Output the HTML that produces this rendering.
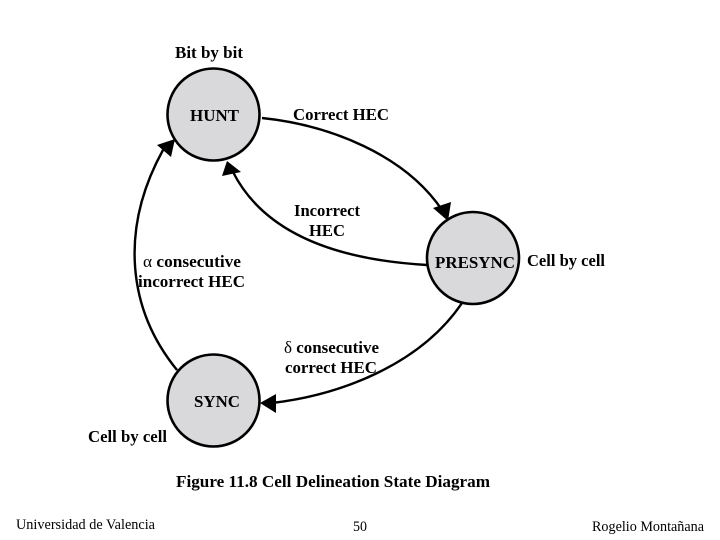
<!DOCTYPE html>
<html>
<head>
<meta charset="utf-8">
<style>
html,body{margin:0;padding:0;background:#fff;width:720px;height:540px;overflow:hidden}
svg{display:block}
text{font-family:"Liberation Serif",serif;fill:#000}
.b{font-weight:bold;font-size:16.5px}
.f{font-size:14.5px;font-family:"Liberation Serif",serif}
.n{font-weight:normal}
</style>
</head>
<body>
<svg width="720" height="540" viewBox="0 0 720 540" xmlns="http://www.w3.org/2000/svg">
<g fill="#d9d9db" stroke="#000" stroke-width="2.6">
<circle cx="213.5" cy="114.5" r="46"/>
<circle cx="473" cy="258" r="46"/>
<circle cx="213.5" cy="400.5" r="46"/>
</g>
<g fill="none" stroke="#000" stroke-width="2.4">
<path d="M262 118 C330 125 405 155 442 210"/>
<path d="M427 265 C340 260 265 235 233 172"/>
<path d="M177 370 C128 310 119 230 163 150"/>
<path d="M462 303 C420 365 340 395 272 403"/>
</g>
<g fill="#000">
<polygon points="448,221 433,208 451,202"/>
<polygon points="227,161 222,176 241,172"/>
<polygon points="175,139 157,145 171,157"/>
<polygon points="260,403 276,394 276,413"/>
</g>
<text class="b" x="175" y="58" textLength="68" lengthAdjust="spacingAndGlyphs">Bit by bit</text>
<text class="b" x="190" y="121" textLength="49" lengthAdjust="spacingAndGlyphs">HUNT</text>
<text class="b" x="293" y="120" textLength="96" lengthAdjust="spacingAndGlyphs">Correct HEC</text>
<text class="b" x="294" y="216" textLength="66" lengthAdjust="spacingAndGlyphs">Incorrect</text>
<text class="b" x="309" y="236" textLength="36" lengthAdjust="spacingAndGlyphs">HEC</text>
<text class="b" x="435" y="268" textLength="80" lengthAdjust="spacingAndGlyphs">PRESYNC</text>
<text class="b" x="527" y="266" textLength="78" lengthAdjust="spacingAndGlyphs">Cell by cell</text>
<text class="b" x="143" y="267" textLength="98" lengthAdjust="spacingAndGlyphs"><tspan class="n">α</tspan> consecutive</text>
<text class="b" x="138" y="287" textLength="107" lengthAdjust="spacingAndGlyphs">incorrect HEC</text>
<text class="b" x="284" y="353" textLength="95" lengthAdjust="spacingAndGlyphs"><tspan class="n">δ</tspan> consecutive</text>
<text class="b" x="285" y="373" textLength="92" lengthAdjust="spacingAndGlyphs">correct HEC</text>
<text class="b" x="194" y="407" textLength="46" lengthAdjust="spacingAndGlyphs">SYNC</text>
<text class="b" x="88" y="442" textLength="79" lengthAdjust="spacingAndGlyphs">Cell by cell</text>
<text class="b" x="176" y="487" textLength="314" lengthAdjust="spacingAndGlyphs">Figure 11.8  Cell Delineation State Diagram</text>
<text class="f" x="16" y="529" textLength="139" lengthAdjust="spacingAndGlyphs">Universidad de Valencia</text>
<text class="f" x="353" y="531" textLength="14" lengthAdjust="spacingAndGlyphs">50</text>
<text class="f" x="592" y="531" textLength="112" lengthAdjust="spacingAndGlyphs">Rogelio Montañana</text>
</svg>
</body>
</html>
